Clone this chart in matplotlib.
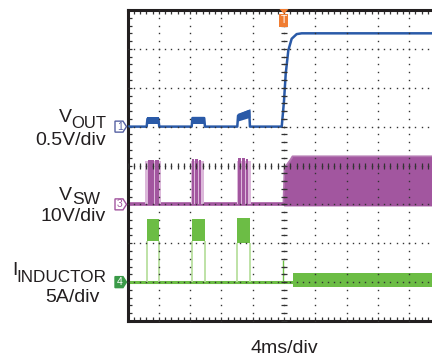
import numpy as np
import matplotlib.pyplot as plt
from matplotlib.patches import Polygon

plt.rcParams['font.family'] = ['Liberation Sans', 'DejaVu Sans']

# ---------- scope setup ----------
MS_PER_DIV = 4.0
VOUT_POS, VOUT_SCALE = 1.0, 0.5    # div offset, V/div
VSW_POS, VSW_SCALE = -1.0, 10.0    # div offset, V/div
IL_POS, IL_SCALE = -3.0, 5.0       # div offset, A/div

BLUE = "#2a5aa8"
PURPLE = "#a2569f"
PURPLE_LIGHT = "#dcb8da"
GREEN = "#6cbd45"
GREEN_LIGHT = "#b9df9f"
INK = "#231f20"

# ---------- waveforms (time in ms) ----------
# output voltage, V
vout_t = [-20, -17.55, -17.45, -16.05, -15.94, -11.80, -11.70, -10.20, -10.10,
          -5.97, -5.87, -4.45, -4.35, -0.29, 0.0, 0.22, 0.55, 0.98, 1.62, 2.26, 20]
vout_v = [0, 0, 0.10, 0.10, 0, 0, 0.11, 0.11, 0,
          0, 0.14, 0.20, 0, 0, 0.33, 0.68, 0.98, 1.13, 1.19, 1.20, 1.20]

# ripple band while the hiccup bursts run, V
bump_start = [-17.55, -11.80, -5.97]
bump_end = [-15.94, -10.10, -4.35]
bump_low_start = [0.03, 0.04, 0.07]
bump_low_end = [0.03, 0.04, 0.12]
bump_high_start = [0.12, 0.12, 0.17]
bump_high_end = [0.12, 0.12, 0.23]

# switch node pulses inside each burst, ms
sw_burst_start = [-17.76, -11.85, -6.05]
sw_burst_end = [-15.75, -10.22, -4.26]
sw_pulse_start = [-17.40, -17.00, -16.52, -11.80, -11.40, -10.85, -5.86, -5.43, -4.88]
sw_pulse_end = [-17.06, -16.66, -15.94, -11.48, -10.93, -10.58, -5.50, -4.96, -4.54]
sw_pulse_top = [11.5, 11.5, 11.4, 11.6, 11.6, 11.5, 11.9, 11.9, 11.8]

# continuous switching after the trigger, envelope top in V
sw_run_t = [-0.05, 0.10, 0.40, 0.80, 1.10, 20]
sw_run_top = [0, 9.5, 10.2, 11.3, 12.3, 12.3]
sw_run_bottom = -0.4

# inductor current bursts, A
il_burst_start = [-17.55, -11.80, -5.97]
il_burst_end = [-15.94, -10.10, -4.35]
il_burst_low = [5.3, 5.3, 5.0]
il_burst_high = [8.1, 8.1, 8.2]
il_spike_t, il_spike_a = -0.17, 2.8
il_run_start = 1.15
il_run_low, il_run_high = -0.6, 1.15


def div(values, pos, scale):
    return pos + np.asarray(values, dtype=float) / scale


fig = plt.figure(figsize=(4.32, 3.56), dpi=100)
ax = fig.add_axes([127.5 / 432, 35 / 356, 313 / 432, 311 / 356])
ax.set_xlim(-20, 20)
ax.set_ylim(-4, 4)

# ---------- VSW ----------
ax.plot([-20, 0.0], [VSW_POS, VSW_POS], color=PURPLE, lw=2.6, zorder=2,
        solid_capstyle='butt')
for s, e in zip(sw_burst_start, sw_burst_end):
    ax.fill_between([s, e], VSW_POS, div(11.2, VSW_POS, VSW_SCALE),
                    color=PURPLE_LIGHT, lw=0, zorder=2)
for s, e, top in zip(sw_pulse_start, sw_pulse_end, sw_pulse_top):
    ax.fill_between([s, e], VSW_POS, div(top, VSW_POS, VSW_SCALE),
                    color=PURPLE, lw=0, zorder=2)
ax.fill_between(sw_run_t, div(sw_run_bottom, VSW_POS, VSW_SCALE),
                div(sw_run_top, VSW_POS, VSW_SCALE), color=PURPLE, lw=0, zorder=2)
ax.plot(sw_run_t, div(sw_run_top, VSW_POS, VSW_SCALE), color=PURPLE, lw=1.6,
        alpha=0.8, zorder=2)

# ---------- inductor current ----------
ax.plot([-20, 20], [IL_POS, IL_POS], color=GREEN, lw=2.2, zorder=2)
for s, e, lo, hi in zip(il_burst_start, il_burst_end, il_burst_low, il_burst_high):
    ax.vlines([s, e], IL_POS, div(lo, IL_POS, IL_SCALE), color=GREEN_LIGHT,
              lw=1.3, zorder=2)
    ax.fill_between([s, e], div(lo, IL_POS, IL_SCALE), div(hi, IL_POS, IL_SCALE),
                    color=GREEN, lw=0, zorder=2)
ax.vlines(il_spike_t, IL_POS, div(il_spike_a, IL_POS, IL_SCALE), color=GREEN,
          lw=1.0, zorder=2)
ax.fill_between([il_run_start, 20], div(il_run_low, IL_POS, IL_SCALE),
                div(il_run_high, IL_POS, IL_SCALE), color=GREEN, lw=0, zorder=2)

# ---------- VOUT ----------
for s, e, l0, l1, h0, h1 in zip(bump_start, bump_end, bump_low_start, bump_low_end,
                                bump_high_start, bump_high_end):
    ax.fill_between([s, e], div([l0, l1], VOUT_POS, VOUT_SCALE),
                    div([h0, h1], VOUT_POS, VOUT_SCALE), color=BLUE, lw=0, zorder=3)
ax.plot(vout_t, div(vout_v, VOUT_POS, VOUT_SCALE), color=BLUE, lw=1.8, zorder=3)

# ---------- graticule ----------
xs = np.arange(-20, 20.01, 0.8)
ys = np.arange(-4, 4.01, 0.2)
dot = dict(ls='none', marker='s', ms=1.0, mew=0, color='#333333', zorder=4)
for gx in [-16, -12, -8, -4, 4, 8, 12, 16]:
    ax.plot(np.full_like(ys, gx), ys, **dot)
for gy in [-3, -2, -1, 1, 2, 3]:
    ax.plot(xs, np.full_like(xs, gy), **dot)
# centre cross with tick marks
ax.plot(np.zeros_like(ys), ys, **dot)
ax.plot(np.zeros_like(ys), ys, ls='none', marker='_', ms=4, mew=0.9,
        color='#333333', zorder=4)
ax.plot(xs, np.zeros_like(xs), **dot)
ax.plot(xs, np.zeros_like(xs), ls='none', marker='|', ms=5, mew=0.9,
        color='#333333', zorder=4)

ax.set_xticks(np.arange(-20, 20.01, 4))
ax.set_xticks(xs, minor=True)
ax.set_yticks(np.arange(-4, 4.01, 1))
ax.set_yticks(ys, minor=True)
ax.tick_params(which='both', direction='in', length=3, width=0.9, color='#333333',
               top=True, right=True, labelbottom=False, labelleft=False)
for side in ['left', 'bottom', 'top', 'right']:
    ax.spines[side].set_linewidth(2.2)
    ax.spines[side].set_color(INK)

# ---------- channel and trigger markers ----------
px_ms = MS_PER_DIV / 31.3
py_div = 1 / 38.9


def channel_marker(ypos, label, edge, face, text_color):
    x0, x1, x2 = -20 - 12.5 * px_ms, -20 - 4.5 * px_ms, -20 - 1.0 * px_ms
    h = 5.5 * py_div
    pts = [(x0, ypos - h), (x1, ypos - h), (x2, ypos), (x1, ypos + h), (x0, ypos + h)]
    ax.add_patch(Polygon(pts, closed=True, fc=face, ec=edge, lw=1.0,
                         clip_on=False, zorder=6))
    ax.text((x0 + x1) / 2 + 0.1, ypos, label, ha='center', va='center',
            fontsize=7.5, color=text_color, clip_on=False, zorder=7)


channel_marker(VOUT_POS, "1", "#5661a3", "white", "#5661a3")
channel_marker(VSW_POS, "3", "#a2569f", "white", "#a2569f")
channel_marker(IL_POS, "4", "#3a9a48", "#3a9a48", "white")

w = 4.5 * px_ms
tri = [(-w, 4 + 1.0 * py_div), (w, 4 + 1.0 * py_div), (0, 4 - 4 * py_div)]
ax.add_patch(Polygon(tri, closed=True, fc="#f07d32", ec='none', clip_on=False,
                     zorder=6))
rect = [(-w, 4 - 4 * py_div), (w, 4 - 4 * py_div), (w, 4 - 17 * py_div),
        (-w, 4 - 17 * py_div)]
ax.add_patch(Polygon(rect, closed=True, fc="#f07d32", ec='none', clip_on=False,
                     zorder=6))
ax.text(0, 4 - 10.5 * py_div, "T", ha='center', va='center', fontsize=7.5,
        color='white', zorder=7)

# ---------- labels ----------
W, H = 432.0, 356.0


def label(px, py, s, size, ha):
    fig.text(px / W, 1 - py / H, s, fontsize=size, ha=ha, va='baseline', color=INK)


label(59, 122, "V", 14, 'left')
label(106, 127.5, "OUT", 12, 'right')
label(106, 145, "0.5V/div", 14, 'right')

label(59, 200, "V", 14, 'left')
label(72.5, 204, "SW", 12.5, 'left')
label(106, 221, "10V/div", 14, 'right')

label(12, 275, "I", 14, 'left')
label(106, 282, "INDUCTOR", 12.3, 'right')
label(100, 302, "5A/div", 14, 'right')

label(284, 353, "4ms/div", 14, 'center')

fig.savefig("out.png", dpi=100)
